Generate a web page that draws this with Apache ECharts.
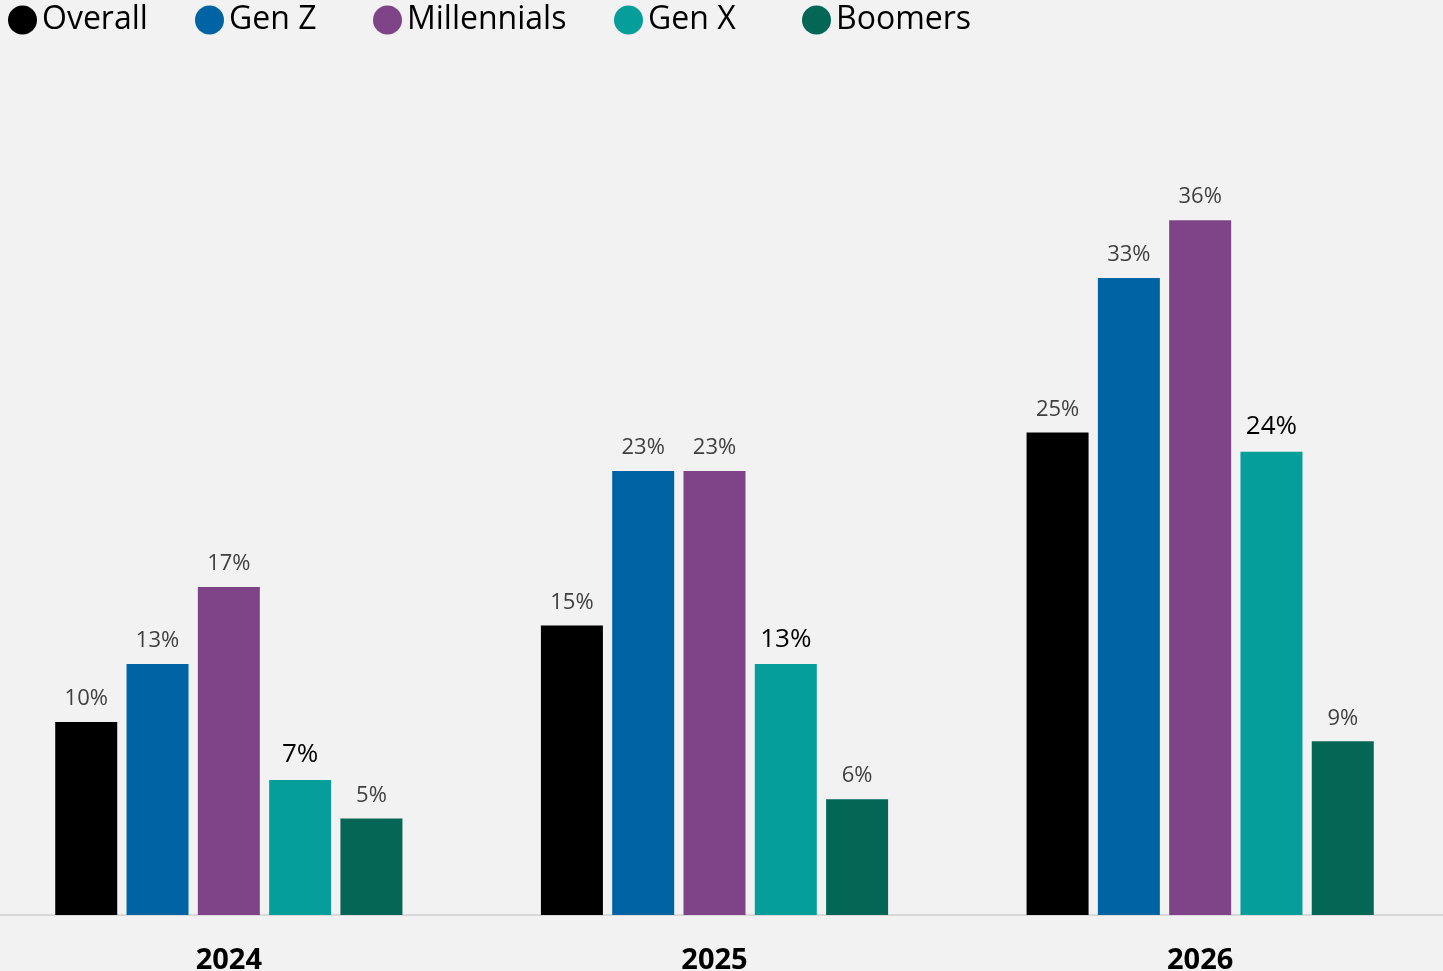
<!DOCTYPE html>
<html>
<head>
<meta charset="utf-8">
<script src="https://cdn.jsdelivr.net/npm/echarts@6/dist/echarts.min.js"></script>
<style>
  html, body { margin: 0; padding: 0; background: #f2f2f2; }
  #chart { width: 1443px; height: 971px; }
</style>
</head>
<body>
<div id="chart"></div>
<script>
// years on the x axis
var years = ['2024', '2025', '2026'];
// share per generation, in %
var overall = [10, 15, 25];
var genZ = [13, 23, 33];
var millennials = [17, 23, 36];
var genX = [7, 13, 24];
var boomers = [5, 6, 9];

var seriesNames = ['Overall', 'Gen Z', 'Millennials', 'Gen X', 'Boomers'];
var seriesData = [overall, genZ, millennials, genX, boomers];
var seriesColors = ['#000000', '#0064a4', '#7f4488', '#069e9a', '#046655'];
var legendLeft = [8, 195, 373, 614, 802];

var chart = echarts.init(document.getElementById('chart'));

var series = seriesNames.map(function (name, i) {
    var isGenX = name === 'Gen X';
    return {
        name: name,
        type: 'bar',
        data: seriesData[i],
        barWidth: 62,
        barGap: '15%',
        itemStyle: { color: seriesColors[i] },
        label: {
            show: true,
            position: 'top',
            distance: 12,
            formatter: '{c}%',
            fontFamily: 'Open Sans',
            fontSize: isGenX ? 26 : 22,
            color: isGenX ? '#000000' : '#404040'
        }
    };
});

// one legend per item so the spacing matches the original
var legends = seriesNames.map(function (name, i) {
    return {
        left: legendLeft[i],
        top: 4,
        padding: 0,
        icon: 'circle',
        itemWidth: 29,
        itemHeight: 29,
        itemGap: 0,
        itemTextGap: 6,
        selectedMode: false,
        textStyle: { fontFamily: 'Open Sans', fontSize: 32, color: '#000000' },
        data: [name]
    };
});

var option = {
    backgroundColor: '#f2f2f2',
    animation: false,
    legend: legends,
    grid: { left: -14, right: 0, top: 143, bottom: 56, outerBoundsMode: 'none' },
    xAxis: {
        type: 'category',
        data: years,
        axisTick: { show: false },
        axisLine: { lineStyle: { color: '#d9d9d9', width: 2 } },
        axisLabel: {
            margin: 31,
            fontFamily: 'Open Sans',
            fontWeight: 'bold',
            fontSize: 29,
            color: '#000000'
        }
    },
    yAxis: {
        type: 'value',
        min: 0,
        max: 40,
        show: false,
        splitLine: { show: false }
    },
    series: series
};

chart.setOption(option);
</script>
</body>
</html>
